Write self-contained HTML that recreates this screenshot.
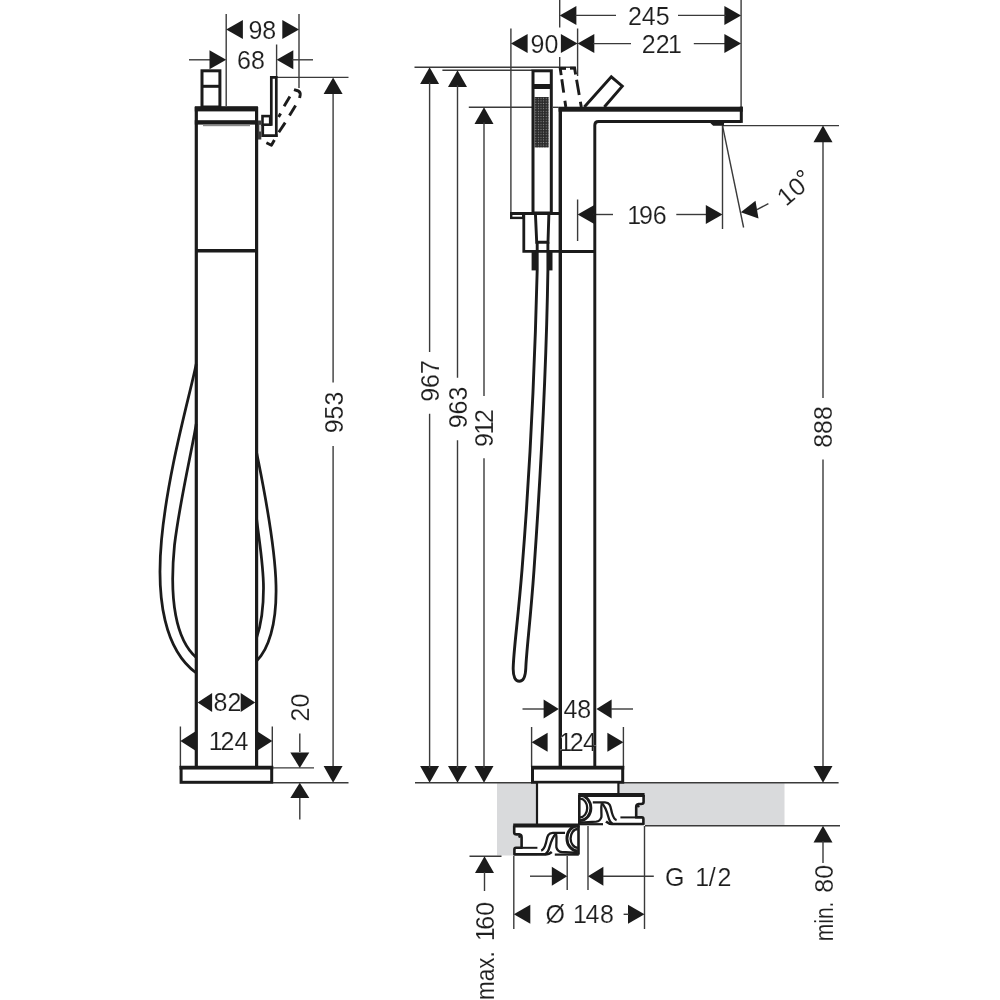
<!DOCTYPE html>
<html lang="en"><head><meta charset="utf-8"><title>Freestanding bath mixer – dimensional drawing</title>
<style>html,body{margin:0;padding:0;background:#fff}svg{display:block;will-change:transform}</style></head>
<body>
<svg width="1000" height="1000" viewBox="0 0 1000 1000" font-family="'Liberation Sans', Arial, sans-serif" fill="#3a3a3a">
<style>text{stroke:#ffffff;stroke-width:0.14px;fill:#1e1e1e}</style>
<rect width="1000" height="1000" fill="#ffffff"/>
<defs><pattern id="dots" x="534.5" y="97" width="2.6" height="2.6" patternUnits="userSpaceOnUse"><rect width="2.6" height="2.6" fill="#2a2a2a"/><circle cx="1.3" cy="1.3" r="0.58" fill="#909090"/></pattern></defs>
<g id="left-view">
<line x1="226.2" y1="14" x2="226.2" y2="106" stroke="#3a3a3a" stroke-width="1.4" />
<line x1="299" y1="14" x2="299" y2="88" stroke="#3a3a3a" stroke-width="1.4" />
<polygon points="226.2,29.5 242.9,20.0 242.9,39.0" fill="#1b1b1b"/>
<polygon points="299,29.5 282.3,20.0 282.3,39.0" fill="#1b1b1b"/>
<text x="262.3" y="38.55" font-size="25" text-anchor="middle">98</text>
<line x1="189" y1="59.8" x2="211" y2="59.8" stroke="#3a3a3a" stroke-width="1.4" />
<polygon points="226.2,59.8 209.5,50.3 209.5,69.3" fill="#1b1b1b"/>
<polygon points="276.6,59.8 293.3,50.3 293.3,69.3" fill="#1b1b1b"/>
<line x1="292" y1="59.8" x2="313" y2="59.8" stroke="#3a3a3a" stroke-width="1.4" />
<line x1="276.6" y1="44.5" x2="276.6" y2="77" stroke="#3a3a3a" stroke-width="1.4" />
<text x="251" y="68.85" font-size="25" text-anchor="middle">68</text>
<line x1="277" y1="77.4" x2="348.5" y2="77.4" stroke="#3a3a3a" stroke-width="1.4" />
<line x1="333.1" y1="92" x2="333.1" y2="382.5" stroke="#3a3a3a" stroke-width="1.4" />
<line x1="333.1" y1="446" x2="333.1" y2="768" stroke="#3a3a3a" stroke-width="1.4" />
<polygon points="333.1,77.4 323.6,94.1 342.6,94.1" fill="#1b1b1b"/>
<polygon points="333.1,782.7 323.6,766.0 342.6,766.0" fill="#1b1b1b"/>
<text x="333.6" y="421.45" font-size="25" text-anchor="middle" transform="rotate(-90 333.6 412.5)">953</text>
<rect x="202" y="70.8" width="17.9" height="36.2" fill="none" stroke="#1b1b1b" stroke-width="3.0"/>
<rect x="202" y="84.8" width="18" height="3.0" fill="#1b1b1b"/>
<line x1="196.3" y1="107" x2="196.3" y2="767" stroke="#1b1b1b" stroke-width="3.2" />
<line x1="256.6" y1="107" x2="256.6" y2="767" stroke="#1b1b1b" stroke-width="3.2" />
<rect x="194.8" y="106.2" width="63.1" height="5.2" fill="#1b1b1b"/>
<rect x="194.8" y="120.2" width="63.1" height="4.4" fill="#1b1b1b"/>
<rect x="203" y="124.6" width="47" height="1.6" fill="#8a8a8a"/>
<line x1="196.3" y1="250.7" x2="256.6" y2="250.7" stroke="#1b1b1b" stroke-width="3.4" />
<path d="M271.3 125.8 V77.3 H276.3 V136.9" fill="none" stroke="#1b1b1b" stroke-width="2.7" />
<rect x="262.5" y="116.1" width="7.7" height="8.6" fill="none" stroke="#1b1b1b" stroke-width="2.6"/>
<path d="M262.7 124.7 V135.6 H277.6" fill="none" stroke="#1b1b1b" stroke-width="2.8" />
<rect x="257.9" y="120.5" width="3.4" height="19.0" fill="#3a3a3a"/>
<rect x="259.2" y="124.8" width="1.8" height="6.7" fill="#d8d8d8"/>
<path d="M294 89.6 L298.4 91 Q300.6 92.5 300.2 95 L299.6 98" fill="none" stroke="#1b1b1b" stroke-width="2.9" stroke-linejoin="round"/>
<path d="M295.6 105.6 L289.5 115.6" fill="none" stroke="#1b1b1b" stroke-width="2.9" stroke-linejoin="round"/>
<path d="M285.2 122.6 L278.8 132.2" fill="none" stroke="#1b1b1b" stroke-width="2.9" stroke-linejoin="round"/>
<path d="M274.4 140 L271.4 145.2 L266.4 142.8" fill="none" stroke="#1b1b1b" stroke-width="2.9" stroke-linejoin="round"/>
<path d="M289.9 96.6 L284.1 106.2" fill="none" stroke="#1b1b1b" stroke-width="2.9" stroke-linejoin="round"/>
<path d="M280.6 113.6 L278.6 117" fill="none" stroke="#1b1b1b" stroke-width="2.9" stroke-linejoin="round"/>
<path d="M196.2 364 C190 395 168 470 161.5 540 C156 600 165 650 196.2 673" fill="none" stroke="#1b1b1b" stroke-width="2.75" />
<path d="M196.2 424 C192 450 180 500 174.5 545 C169 600 176 640 196.2 657.5" fill="none" stroke="#1b1b1b" stroke-width="2.75" />
<path d="M256.5 452 C262 480 275 540 276 585 C277 625 268 650 256.5 661" fill="none" stroke="#1b1b1b" stroke-width="2.75" />
<path d="M256.5 518 C259 540 263.5 565 263.5 588 C263.5 612 260 628 256.5 638" fill="none" stroke="#1b1b1b" stroke-width="2.75" />
<polygon points="197.6,702.5 212.1,693.0 212.1,712.0" fill="#1b1b1b"/>
<polygon points="255.2,702.5 240.7,693.0 240.7,712.0" fill="#1b1b1b"/>
<text x="227.5" y="711.05" font-size="25" text-anchor="middle">82</text>
<line x1="180.4" y1="726.5" x2="180.4" y2="767" stroke="#3a3a3a" stroke-width="1.4" />
<line x1="272.3" y1="726.5" x2="272.3" y2="767" stroke="#3a3a3a" stroke-width="1.4" />
<polygon points="180.4,741 195.2,731.5 195.2,750.5" fill="#1b1b1b"/>
<polygon points="272.3,741 257.5,731.5 257.5,750.5" fill="#1b1b1b"/>
<text x="228.6" y="750.05" font-size="25" text-anchor="middle">1<tspan dx="-2.2">2</tspan>4</text>
<rect x="181.1" y="767.6" width="90.6" height="14.7" fill="none" stroke="#1b1b1b" stroke-width="3.0"/>
<line x1="179.6" y1="767.6" x2="273.2" y2="767.6" stroke="#1b1b1b" stroke-width="3.6" />
<line x1="273" y1="767.9" x2="314" y2="767.9" stroke="#3a3a3a" stroke-width="1.4" />
<line x1="273" y1="782.7" x2="348.5" y2="782.7" stroke="#3a3a3a" stroke-width="1.4" />
<line x1="299.8" y1="733.5" x2="299.8" y2="752" stroke="#3a3a3a" stroke-width="1.4" />
<polygon points="299.8,767.9 290.3,752.5 309.3,752.5" fill="#1b1b1b"/>
<polygon points="299.8,782.7 290.3,798.1 309.3,798.1" fill="#1b1b1b"/>
<line x1="299.8" y1="798" x2="299.8" y2="819.5" stroke="#3a3a3a" stroke-width="1.4" />
<text x="300" y="716.45" font-size="25" text-anchor="middle" transform="rotate(-90 300 707.5)">20</text>
</g>
<g id="right-view">
<rect x="497" y="783.2" width="40" height="72.3" fill="#d9dadc"/>
<rect x="618" y="783.2" width="166.5" height="42.0" fill="#d9dadc"/>
<line x1="559.7" y1="0" x2="559.7" y2="27.5" stroke="#3a3a3a" stroke-width="1.4" />
<line x1="559.7" y1="57" x2="559.7" y2="67.5" stroke="#3a3a3a" stroke-width="1.4" />
<line x1="741.1" y1="0" x2="741.1" y2="107" stroke="#3a3a3a" stroke-width="1.4" />
<polygon points="559.7,15.4 576.4,5.9 576.4,24.9" fill="#1b1b1b"/>
<polygon points="741.1,15.4 724.4,5.9 724.4,24.9" fill="#1b1b1b"/>
<line x1="575.5" y1="15.4" x2="616" y2="15.4" stroke="#3a3a3a" stroke-width="1.4" />
<line x1="678" y1="15.4" x2="726" y2="15.4" stroke="#3a3a3a" stroke-width="1.4" />
<text x="648.8" y="24.65" font-size="25" text-anchor="middle">245</text>
<line x1="510.9" y1="28.5" x2="510.9" y2="212" stroke="#3a3a3a" stroke-width="1.4" />
<line x1="577.6" y1="28.5" x2="577.6" y2="76" stroke="#3a3a3a" stroke-width="1.4" />
<polygon points="510.9,43.6 527.6,34.1 527.6,53.1" fill="#1b1b1b"/>
<polygon points="577.6,43.6 560.9,34.1 560.9,53.1" fill="#1b1b1b"/>
<polygon points="577.6,43.6 594.3,34.1 594.3,53.1" fill="#1b1b1b"/>
<text x="544.5" y="52.75" font-size="25" text-anchor="middle">90</text>
<line x1="593" y1="43.6" x2="631" y2="43.6" stroke="#3a3a3a" stroke-width="1.4" />
<line x1="693.8" y1="43.6" x2="726" y2="43.6" stroke="#3a3a3a" stroke-width="1.4" />
<polygon points="741.1,43.6 724.4,34.1 724.4,53.1" fill="#1b1b1b"/>
<text x="661.8" y="52.85" font-size="25" text-anchor="middle">22<tspan dx="-1.6">1</tspan></text>
<line x1="414.5" y1="67.3" x2="576" y2="67.3" stroke="#3a3a3a" stroke-width="1.4" />
<line x1="442.4" y1="70.3" x2="532" y2="70.3" stroke="#3a3a3a" stroke-width="1.4" />
<line x1="468.8" y1="107.3" x2="532" y2="107.3" stroke="#3a3a3a" stroke-width="1.4" />
<line x1="553" y1="107.3" x2="558.5" y2="107.3" stroke="#3a3a3a" stroke-width="1.4" />
<polygon points="429.6,67.3 420.1,84.0 439.1,84.0" fill="#1b1b1b"/>
<polygon points="429.6,782.7 420.1,766.0 439.1,766.0" fill="#1b1b1b"/>
<line x1="429.6" y1="82.3" x2="429.6" y2="352" stroke="#3a3a3a" stroke-width="1.4" />
<line x1="429.6" y1="413.8" x2="429.6" y2="768" stroke="#3a3a3a" stroke-width="1.4" />
<text x="429.90000000000003" y="389.95" font-size="25" text-anchor="middle" transform="rotate(-90 429.90000000000003 381)">967</text>
<polygon points="457.5,70.3 448.0,87.0 467.0,87.0" fill="#1b1b1b"/>
<polygon points="457.5,782.7 448.0,766.0 467.0,766.0" fill="#1b1b1b"/>
<line x1="457.5" y1="85.3" x2="457.5" y2="377.8" stroke="#3a3a3a" stroke-width="1.4" />
<line x1="457.5" y1="440.2" x2="457.5" y2="768" stroke="#3a3a3a" stroke-width="1.4" />
<text x="457.8" y="416.45" font-size="25" text-anchor="middle" transform="rotate(-90 457.8 407.5)">963</text>
<polygon points="484.0,107.3 474.5,124.0 493.5,124.0" fill="#1b1b1b"/>
<polygon points="484.0,782.7 474.5,766.0 493.5,766.0" fill="#1b1b1b"/>
<line x1="484.0" y1="122.3" x2="484.0" y2="396" stroke="#3a3a3a" stroke-width="1.4" />
<line x1="484.0" y1="458.2" x2="484.0" y2="768" stroke="#3a3a3a" stroke-width="1.4" />
<text x="484.3" y="436.95" font-size="25" text-anchor="middle" transform="rotate(-90 484.3 428)">9<tspan dx="-1.6">1</tspan><tspan dx="-2.2">2</tspan></text>
<line x1="415" y1="782.7" x2="531" y2="782.7" stroke="#3a3a3a" stroke-width="1.4" />
<line x1="624" y1="782.7" x2="838.6" y2="782.7" stroke="#3a3a3a" stroke-width="1.4" />
<line x1="645" y1="825.8" x2="840" y2="825.8" stroke="#3a3a3a" stroke-width="1.4" />
<line x1="722.5" y1="125.6" x2="839" y2="125.6" stroke="#3a3a3a" stroke-width="1.4" />
<line x1="823.0" y1="141" x2="823.0" y2="398" stroke="#3a3a3a" stroke-width="1.4" />
<line x1="823.0" y1="459.6" x2="823.0" y2="768" stroke="#3a3a3a" stroke-width="1.4" />
<polygon points="823.0,125.6 813.5,142.3 832.5,142.3" fill="#1b1b1b"/>
<polygon points="823.0,782.7 813.5,766.0 832.5,766.0" fill="#1b1b1b"/>
<text x="823.5" y="435.95" font-size="25" text-anchor="middle" transform="rotate(-90 823.5 427)">888</text>
<polygon points="823.0,825.8 813.5,842.5 832.5,842.5" fill="#1b1b1b"/>
<line x1="823.0" y1="841" x2="823.0" y2="863" stroke="#3a3a3a" stroke-width="1.4" />
<text x="823.8" y="887.75" font-size="25" text-anchor="middle" transform="rotate(-90 823.8 878.8)">80</text>
<text x="823.8" y="930.35" font-size="25" text-anchor="middle" textLength="39.5" lengthAdjust="spacingAndGlyphs" transform="rotate(-90 823.8 921.4)">min.</text>
<line x1="577.6" y1="199.5" x2="577.6" y2="241" stroke="#3a3a3a" stroke-width="1.4" />
<polygon points="577.6,214.5 594.3,205.0 594.3,224.0" fill="#1b1b1b"/>
<line x1="593" y1="214.5" x2="613" y2="214.5" stroke="#3a3a3a" stroke-width="1.4" />
<line x1="676.3" y1="214.5" x2="707" y2="214.5" stroke="#3a3a3a" stroke-width="1.4" />
<polygon points="722.5,214.5 705.8,205.0 705.8,224.0" fill="#1b1b1b"/>
<text x="647" y="223.75" font-size="25" text-anchor="middle">1<tspan dx="-2.2">9</tspan>6</text>
<line x1="722.5" y1="125.6" x2="722.5" y2="229" stroke="#3a3a3a" stroke-width="1.4" />
<line x1="722.5" y1="125.6" x2="743.6" y2="227.5" stroke="#3a3a3a" stroke-width="1.4" />
<polygon points="740.8,212.2 755.5,200.8 758.5,218.5" fill="#1b1b1b"/>
<line x1="757" y1="209.6" x2="768.4" y2="203.6" stroke="#3a3a3a" stroke-width="1.4" />
<text x="794.8" y="196.95" font-size="25" text-anchor="middle" letter-spacing="0.6" transform="rotate(-40 794.8 188.0)">10<tspan stroke="none" dx="-1.6" dy="-2.6">°</tspan></text>
<rect x="533" y="70.8" width="18.3" height="142.2" fill="none" stroke="#1b1b1b" stroke-width="3"/>
<rect x="533" y="84" width="18.3" height="5" fill="#1b1b1b"/>
<rect x="534.5" y="97" width="14.2" height="50.5" fill="url(#dots)"/>
<path d="M560.1 67.6 L565.8 107" fill="none" stroke="#1b1b1b" stroke-width="2.9" stroke-dasharray="7.6 4.2 13.5 8.2 8"/>
<path d="M574.4 67.2 L581.3 107" fill="none" stroke="#1b1b1b" stroke-width="2.9" stroke-dasharray="7.4 5.4 15.4 6.8 8"/>
<path d="M559.6 68.4 H566" fill="none" stroke="#1b1b1b" stroke-width="2.9" />
<path d="M570 68.2 H575.3" fill="none" stroke="#1b1b1b" stroke-width="2.9" />
<path d="M584.3 107 L611.3 76.8 L622.3 86.2 L604.3 107" fill="none" stroke="#1b1b1b" stroke-width="2.9" stroke-linejoin="miter"/>
<line x1="560.3" y1="107" x2="560.3" y2="766.5" stroke="#1b1b1b" stroke-width="3.4" />
<path d="M594.8 766.5 V125.2 Q594.8 121.5 598.6 121.5 H741.1" fill="none" stroke="#1b1b1b" stroke-width="2.95" />
<rect x="558.6" y="106.7" width="184.2" height="5.0" fill="#1b1b1b"/>
<rect x="739.8" y="106.7" width="3.0" height="16.2" fill="#1b1b1b"/>
<polygon points="709.5,122.3 724.2,122.3 723.8,125.8 713.2,125.8" fill="#1b1b1b"/>
<line x1="560.3" y1="251.5" x2="594.8" y2="251.5" stroke="#1b1b1b" stroke-width="3.0" />
<line x1="510" y1="213.4" x2="560" y2="213.4" stroke="#1b1b1b" stroke-width="3" />
<rect x="511.2" y="213.4" width="12.0" height="4.5" fill="none" stroke="#1b1b1b" stroke-width="2.4"/>
<path d="M523.8 213.4 V251.4 H560" fill="none" stroke="#1b1b1b" stroke-width="2.8" />
<path d="M535.4 213.4 L536.7 242.2 H548 L548.9 213.4" fill="none" stroke="#1b1b1b" stroke-width="2.9" />
<rect x="531.6" y="251" width="4.9" height="19.4" fill="#1b1b1b"/>
<rect x="547.7" y="251" width="4.8" height="19.4" fill="#1b1b1b"/>
<path d="M537.2 242.2 V270 C535 360 530 470 522 570 C518 620 513.6 650 513.2 668 C513 677 515.5 681.3 519.3 681.3 C523 681.3 525.5 677 525.8 668 C526.5 650 530.5 620 534 570 C541 470 546.5 360 547.9 270 V242.2" fill="none" stroke="#1b1b1b" stroke-width="2.9" />
<line x1="522.5" y1="709" x2="544" y2="709" stroke="#3a3a3a" stroke-width="1.4" />
<polygon points="558.8,709 543.6,699.5 543.6,718.5" fill="#1b1b1b"/>
<polygon points="596.4,709 611.6,699.5 611.6,718.5" fill="#1b1b1b"/>
<line x1="611" y1="709" x2="633" y2="709" stroke="#3a3a3a" stroke-width="1.4" />
<text x="577.3" y="718.25" font-size="25" text-anchor="middle">48</text>
<line x1="531.6" y1="727" x2="531.6" y2="767" stroke="#3a3a3a" stroke-width="1.4" />
<line x1="623.4" y1="727" x2="623.4" y2="767" stroke="#3a3a3a" stroke-width="1.4" />
<polygon points="531.6,742.3 547.6,732.8 547.6,751.8" fill="#1b1b1b"/>
<polygon points="623.4,742.3 607.4,732.8 607.4,751.8" fill="#1b1b1b"/>
<text x="577.4" y="750.85" font-size="25" text-anchor="middle" letter-spacing="-0.7">1<tspan dx="-2.2">2</tspan>4</text>
<rect x="532.5" y="767.6" width="90.2" height="14.7" fill="none" stroke="#1b1b1b" stroke-width="3.0"/>
<line x1="531" y1="767.6" x2="624.2" y2="767.6" stroke="#1b1b1b" stroke-width="3.6" />
<rect x="537" y="783.6" width="81.4" height="40.4" fill="#ffffff"/>
<line x1="537" y1="783" x2="537" y2="824" stroke="#1b1b1b" stroke-width="2.2" />
<line x1="618.4" y1="783" x2="618.4" y2="794" stroke="#1b1b1b" stroke-width="2.2" />
<g id="fit-a"><path d="M579.2 795 V824.4 H644 V818 H636.4 V803.8 H644.6 V795 Z" fill="#ffffff" stroke="none"/><path d="M578.2 795 H644.6" stroke="#1b1b1b" stroke-width="4" fill="none"/><path d="M579.3 795 V824.2" stroke="#1b1b1b" stroke-width="2.6" fill="none"/><path d="M643.6 795 V802 Q643.6 804 641 804 H638.6 Q636.2 804.2 636.2 807 V817.4 H641.8 Q643.4 817.4 643.4 819 V824 H612 Q609 824 606 821.5" stroke="#1b1b1b" stroke-width="2.6" fill="none" stroke-linejoin="round"/><path d="M620.4 817.4 H636" stroke="#1b1b1b" stroke-width="2" fill="none"/><circle cx="638.3" cy="806.2" r="1.3" fill="#1b1b1b"/><path d="M580 795.4 A10.9 12.6 0 0 1 580 820.6" stroke="#1b1b1b" stroke-width="2.9" fill="none"/><path d="M580 798.6 A7.2 9.4 0 0 1 580 817.4" stroke="#1b1b1b" stroke-width="2.3" fill="none"/><path d="M592.8 802.4 H605 C611 802.4 610.5 808 612 813 C613.4 818 614.6 819.6 616.6 820.2" stroke="#1b1b1b" stroke-width="2.3" fill="none"/><path d="M601.8 803.2 C605 806 607 812 608.4 817 C609.4 821 610.6 822.6 612.4 823.6" stroke="#1b1b1b" stroke-width="2.3" fill="none"/><path d="M601.8 803.2 C600.6 808 601.8 813 601.4 817 C600.6 820 598.4 821.4 596.2 821.6 L580 822.6" stroke="#1b1b1b" stroke-width="2.3" fill="none"/><path d="M579 824.2 H603" stroke="#1b1b1b" stroke-width="2.2" fill="none"/></g>
<g id="fit-b" transform="translate(1157.8 30.4) scale(-1 1)"><path d="M579.2 795 V824.4 H644 V818 H636.4 V803.8 H644.6 V795 Z" fill="#ffffff" stroke="none"/><path d="M578.2 795 H644.6" stroke="#1b1b1b" stroke-width="4" fill="none"/><path d="M579.3 795 V824.2" stroke="#1b1b1b" stroke-width="2.6" fill="none"/><path d="M643.6 795 V802 Q643.6 804 641 804 H638.6 Q636.2 804.2 636.2 807 V817.4 H641.8 Q643.4 817.4 643.4 819 V824 H612 Q609 824 606 821.5" stroke="#1b1b1b" stroke-width="2.6" fill="none" stroke-linejoin="round"/><path d="M620.4 817.4 H636" stroke="#1b1b1b" stroke-width="2" fill="none"/><circle cx="638.3" cy="806.2" r="1.3" fill="#1b1b1b"/><path d="M580 795.4 A10.9 12.6 0 0 1 580 820.6" stroke="#1b1b1b" stroke-width="2.9" fill="none"/><path d="M580 798.6 A7.2 9.4 0 0 1 580 817.4" stroke="#1b1b1b" stroke-width="2.3" fill="none"/><path d="M592.8 802.4 H605 C611 802.4 610.5 808 612 813 C613.4 818 614.6 819.6 616.6 820.2" stroke="#1b1b1b" stroke-width="2.3" fill="none"/><path d="M601.8 803.2 C605 806 607 812 608.4 817 C609.4 821 610.6 822.6 612.4 823.6" stroke="#1b1b1b" stroke-width="2.3" fill="none"/><path d="M601.8 803.2 C600.6 808 601.8 813 601.4 817 C600.6 820 598.4 821.4 596.2 821.6 L580 822.6" stroke="#1b1b1b" stroke-width="2.3" fill="none"/><path d="M579 824.2 H603" stroke="#1b1b1b" stroke-width="2.2" fill="none"/></g>
<line x1="513.8" y1="856" x2="513.8" y2="929" stroke="#3a3a3a" stroke-width="1.4" />
<line x1="644.5" y1="826" x2="644.5" y2="929" stroke="#3a3a3a" stroke-width="1.4" />
<line x1="567.2" y1="856" x2="567.2" y2="890" stroke="#3a3a3a" stroke-width="1.4" />
<line x1="588" y1="826" x2="588" y2="890" stroke="#3a3a3a" stroke-width="1.4" />
<line x1="530" y1="876.2" x2="552" y2="876.2" stroke="#3a3a3a" stroke-width="1.4" />
<polygon points="567.2,876.2 551.8,866.7 551.8,885.7" fill="#1b1b1b"/>
<polygon points="588,876.2 603.4,866.7 603.4,885.7" fill="#1b1b1b"/>
<line x1="603" y1="876.2" x2="653.8" y2="876.2" stroke="#3a3a3a" stroke-width="1.4" />
<text x="699.2" y="885.75" font-size="25" text-anchor="middle" letter-spacing="1.9">G 1<tspan dx="-2.2">/</tspan>2</text>
<polygon points="513.8,914.3 530.3,904.8 530.3,923.8" fill="#1b1b1b"/>
<polygon points="644.5,914.3 628.0,904.8 628.0,923.8" fill="#1b1b1b"/>
<line x1="623.6" y1="914.3" x2="629" y2="914.3" stroke="#3a3a3a" stroke-width="1.4" />
<text x="580" y="923.25" font-size="25" text-anchor="middle" letter-spacing="0.6">Ø 1<tspan dx="-2.2">4</tspan>8</text>
<line x1="469.5" y1="856.3" x2="501.5" y2="856.3" stroke="#3a3a3a" stroke-width="1.4" />
<polygon points="484.5,856.3 475.0,873.0 494.0,873.0" fill="#1b1b1b"/>
<line x1="484.5" y1="872" x2="484.5" y2="891" stroke="#3a3a3a" stroke-width="1.4" />
<text x="484.9" y="930.55" font-size="25" text-anchor="middle" transform="rotate(-90 484.9 921.6)">1<tspan dx="-2.2">6</tspan>0</text>
<text x="484.9" y="984.55" font-size="25" text-anchor="middle" textLength="48.8" lengthAdjust="spacingAndGlyphs" transform="rotate(-90 484.9 975.6)">max.</text>
</g>
</svg>
</body></html>
